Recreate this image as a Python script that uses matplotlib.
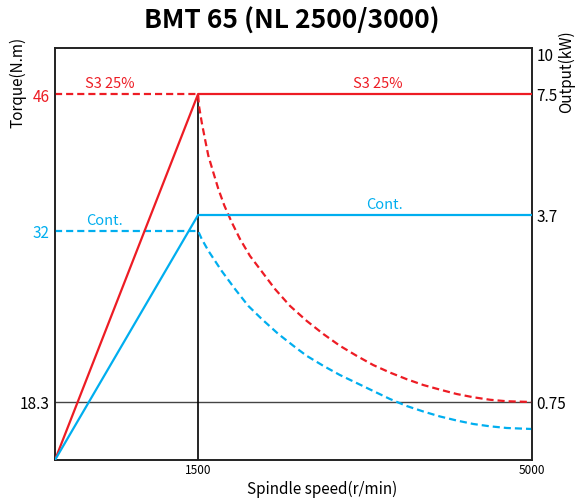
import numpy as np
import matplotlib
matplotlib.use("Agg")
import matplotlib.pyplot as plt

plt.rcParams['font.family'] = ['Noto Sans CJK KR', 'DejaVu Sans']

# ---------------- data ----------------
title = "BMT 65 (NL 2500/3000)"
x_ticks = [1500, 5000]
torque_ticks = [46, 32, 18.3]
torque_tick_labels = ["46", "32", "18.3"]
output_ticks = [10, 7.5, 3.7, 0.75]
output_tick_labels = ["10", "7.5", "3.7", "0.75"]

base_speed = 1500
max_speed = 5000

# Output (kW) solid lines
out_speed = [0, 1500, 5000]
out_s3 = [0, 7.5, 7.5]
out_cont = [0, 3.7, 3.7]

# Torque (N.m) dashed curves
tq_s3_speed = [0, 1500, 1509, 1538, 1572, 1607, 1659, 1712, 1775, 1852, 1939,
               2044, 2167, 2306, 2463, 2638, 2812, 2987, 3162, 3336, 3511,
               3686, 3861, 4036, 4211, 4385, 4560, 4735, 5000]
tq_s3 = [46, 46, 44.8, 43.1, 41.4, 39.7, 38.0, 36.3, 34.6, 32.9, 31.36,
         30.0, 28.76, 27.35, 26.0, 24.8, 23.75, 22.8, 22.0, 21.26, 20.66,
         20.13, 19.66, 19.29, 18.94, 18.68, 18.48, 18.36, 18.3]
tq_cont_speed = [0, 1500, 1538, 1607, 1747, 1887, 2026, 2167, 2341, 2516,
                 2638, 2812, 2987, 3162, 3336, 3511, 3686, 3861, 4036, 4211,
                 4385, 4560, 4735, 5000]
tq_cont = [32, 32, 31.36, 30.42, 28.8, 27.35, 26.0, 24.95, 23.75, 22.7,
           22.0, 21.2, 20.46, 19.82, 19.18, 18.54, 17.04, 15.30, 13.73, 12.46,
           11.36, 10.63, 10.10, 9.78]

# chart's (schematic) vertical scales: value -> relative height
torque_anchor_vals = [0, 18.3, 32, 46, 50.7]
output_anchor_vals = [0, 0.75, 3.7, 7.5, 10, 10.375]
anchor_h_torque = [0, 58, 229, 366, 412]
anchor_h_output = [0, 58, 245, 366, 406, 412]

RED = "#ED1C24"
BLUE = "#00AEEF"


def piecewise(xp, fp):
    xp = np.asarray(xp, float)
    fp = np.asarray(fp, float)

    def f(v):
        v = np.asarray(v, float)
        out = np.interp(v, xp, fp)
        s0 = (fp[1] - fp[0]) / (xp[1] - xp[0])
        s1 = (fp[-1] - fp[-2]) / (xp[-1] - xp[-2])
        out = np.where(v < xp[0], fp[0] + (v - xp[0]) * s0, out)
        out = np.where(v > xp[-1], fp[-1] + (v - xp[-1]) * s1, out)
        return out
    return f


W, H = 579, 502
fig = plt.figure(figsize=(W / 100, H / 100), dpi=100)
L, R, T, B = 55, 532, 49, 461
ax = fig.add_axes([L / W, (H - B) / H, (R - L) / W, (B - T) / H])
ax2 = ax.twinx()

ax.set_yscale('function', functions=(piecewise(torque_anchor_vals, anchor_h_torque),
                                     piecewise(anchor_h_torque, torque_anchor_vals)))
ax2.set_yscale('function', functions=(piecewise(output_anchor_vals, anchor_h_output),
                                      piecewise(anchor_h_output, output_anchor_vals)))
ax.set_ylim(torque_anchor_vals[0], torque_anchor_vals[-1])
ax2.set_ylim(output_anchor_vals[0], output_anchor_vals[-1])
ax.set_xlim(0, max_speed)

dash = (0, (3.2, 1.8))
# reference lines
ax.axhline(18.3, color="#444444", lw=1.0, zorder=1)
ax.vlines(base_speed, 0, max(tq_s3), color="black", lw=1.2, zorder=1)

# torque dashed
ax.plot(tq_s3_speed, tq_s3, color=RED, lw=1.6, ls=dash, zorder=3)
ax.plot(tq_cont_speed, tq_cont, color=BLUE, lw=1.6, ls=dash, zorder=3)
# output solid
ax2.plot(out_speed, out_s3, color=RED, lw=1.6, zorder=3)
ax2.plot(out_speed, out_cont, color=BLUE, lw=1.6, zorder=3)

# ticks
ax.set_xticks(x_ticks)
ax.set_xticklabels([str(t) for t in x_ticks], fontsize=8.5)
ax.tick_params(axis='x', length=0, pad=2.5)
ax.set_yticks(torque_ticks)
ax.set_yticklabels(torque_tick_labels, fontsize=11)
tick_colors = [RED, BLUE, "black"]
for lab, c in zip(ax.get_yticklabels(), tick_colors):
    lab.set_color(c)
ax.tick_params(axis='y', length=0, pad=4)
ax2.set_yticks(output_ticks)
ax2.set_yticklabels(output_tick_labels, fontsize=11)
ax2.tick_params(axis='y', length=0, pad=3)
ax.minorticks_off()
ax2.minorticks_off()

for a in (ax, ax2):
    for s in a.spines.values():
        s.set_color("#222222")
        s.set_linewidth(1.2)

# annotations
ax.annotate("S3 25%", (577, 46), xytext=(0, 3), textcoords='offset points',
            ha='center', va='bottom', color=RED, fontsize=10.5)
ax.annotate("S3 25%", (3386, 46), xytext=(0, 3), textcoords='offset points',
            ha='center', va='bottom', color=RED, fontsize=10.5)
ax.annotate("Cont.", (524, 32), xytext=(0, 3), textcoords='offset points',
            ha='center', va='bottom', color=BLUE, fontsize=10.5)
ax2.annotate("Cont.", (3454, 3.7), xytext=(0, 3), textcoords='offset points',
             ha='center', va='bottom', color=BLUE, fontsize=10.5)

fig.text(292 / W, 1 - 21 / H, title, ha='center', va='center',
         fontsize=19, fontweight='bold')
fig.text(322 / W, 1 - 489 / H, "Spindle speed(r/min)", ha='center', va='center',
         fontsize=11)
fig.text(18 / W, 1 - 82 / H, "Torque(N.m)", ha='center', va='center',
         rotation=90, fontsize=11)
fig.text(567 / W, 1 - 72 / H, "Output(kW)", ha='center', va='center',
         rotation=90, fontsize=11)

fig.savefig("out.png", dpi=100)
